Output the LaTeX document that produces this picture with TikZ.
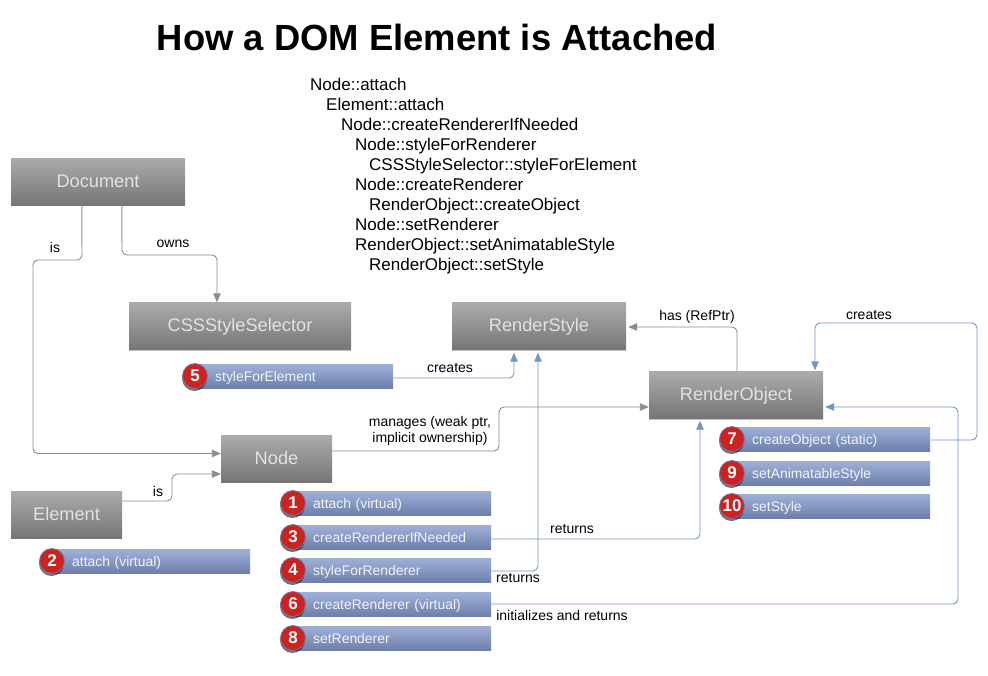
\documentclass[tikz,border=0pt]{standalone}
\usepackage{fontspec}
\setmainfont{Liberation Sans}
\usepackage{xcolor}
\definecolor{boxtop}{HTML}{ABABAB}
\definecolor{boxbot}{HTML}{767676}
\definecolor{boxtxt}{HTML}{E2E2E2}
\definecolor{bartop}{HTML}{9FB0D8}
\definecolor{barbot}{HTML}{6E7FAD}
\definecolor{bartxt}{HTML}{F0F3FA}
\definecolor{numred}{HTML}{CC2220}
\definecolor{linkgray}{HTML}{8C8C8C}
\definecolor{linkblue}{HTML}{7097C8}
\usetikzlibrary{arrows.meta,shadows}

\newcommand{\methodbar}[4]{%
  \node [methodbar] (#1) at (#3) {#4};
  \node [methodnum] (#1num) at (#1.west) {#2};
}

\begin{document}
\begin{tikzpicture}[
  x=1pt, y=-1pt,
  classbox/.style={rectangle, minimum width=#1, minimum height=47pt, inner sep=0pt,
    top color=boxtop, bottom color=boxbot, text=boxtxt, font=\fontsize{18.2}{22}\selectfont,
    text height=13pt, text depth=2pt,
    drop shadow={shadow xshift=0pt, shadow yshift=-1pt, opacity=0.25, fill=black}},
  methodbar/.style={rectangle, anchor=west, minimum height=24pt, inner xsep=10pt, inner ysep=0pt,
    text width=178pt, align=left, text height=11pt, text depth=1pt,
    top color=bartop, bottom color=barbot, text=bartxt, font=\fontsize{13.9}{16}\selectfont,
    execute at begin node={\hspace*{10pt}},
    drop shadow={shadow xshift=0pt, shadow yshift=-1pt, opacity=0.2, fill=black}},
  methodnum/.style={circle, minimum size=25pt, inner sep=0pt, fill=numred, draw=barbot, line width=0.8pt,
    text=white, font=\fontsize{17}{20}\bfseries\selectfont,
    drop shadow={shadow xshift=-0.5pt, shadow yshift=-2.5pt, opacity=0.55, fill=black}},
  linklabel/.style={inner sep=0pt, font=\fontsize{14}{16}\selectfont, align=center},
  listline/.style={inner sep=0pt, anchor=base west, font=\fontsize{17}{20}\selectfont},
  graylink/.style={draw=linkgray, line width=0.9pt, rounded corners=5pt, -{Triangle[length=9pt,width=7.5pt]}},
  bluelink/.style={draw=linkblue, line width=0.9pt, rounded corners=5pt, -{Triangle[length=9pt,width=7.5pt]}}
  ]
  \useasboundingbox (0,0) rectangle (988,675);

  % title
  \node [inner sep=0pt, font=\fontsize{36.4}{40}\bfseries\selectfont] (title) at (437,37) {How a DOM Element is Attached};

  % call list
  \node [listline] (call1) at (310,90) {Node::attach};
  \node [listline] (call2) at (326,110) {Element::attach};
  \node [listline] (call3) at (341,130) {Node::createRendererIfNeeded};
  \node [listline] (call4) at (355,150) {Node::styleForRenderer};
  \node [listline] (call5) at (369,170) {CSSStyleSelector::styleForElement};
  \node [listline] (call6) at (355,190) {Node::createRenderer};
  \node [listline] (call7) at (369,210) {RenderObject::createObject};
  \node [listline] (call8) at (355,230) {Node::setRenderer};
  \node [listline] (call9) at (355,250) {RenderObject::setAnimatableStyle};
  \node [listline] (call10) at (369,270) {RenderObject::setStyle};

  % classes
  \node [classbox=174pt] (document) at (98,181.5) {Document};
  \node [classbox=222pt] (selector) at (240,326) {CSSStyleSelector};
  \node [classbox=174pt] (renderstyle) at (539,326) {RenderStyle};
  \node [classbox=174pt] (renderobject) at (736,395) {RenderObject};
  \node [classbox=111pt] (domnode) at (276.5,458.5) {Node};
  \node [classbox=111pt] (element) at (66.5,514.5) {Element};

  % methods
  \methodbar{styleforelement}{5}{195,376}{styleForElement}
  \methodbar{attachnode}{1}{293,503}{attach (virtual)}
  \methodbar{ifneeded}{3}{293,537}{createRendererIfNeeded}
  \methodbar{styleforrenderer}{4}{293,570}{styleForRenderer}
  \methodbar{createrenderer}{6}{293,604}{createRenderer (virtual)}
  \methodbar{setrenderer}{8}{293,638}{setRenderer}
  \methodbar{attachelement}{2}{52,561}{attach (virtual)}
  \methodbar{createobject}{7}{732,439}{createObject (static)}
  \methodbar{setanimatable}{9}{732,473}{setAnimatableStyle}
  \methodbar{setstyle}{10}{732,506}{setStyle}

  % gray links
  \draw [graylink] ([xshift=71pt]document.south west) -- (82,260) -- (33,260) -- (33,453.5) -- ([yshift=5pt]domnode.west);
  \draw [graylink] ([xshift=111pt]document.south west) -- (122,255) -- (217,255) -- ([xshift=-23pt]selector.north);
  \draw [graylink] ([yshift=13.5pt]element.east) -- (172,501) -- (172,474) -- ([yshift=-15.5pt]domnode.west);
  \draw [graylink] ([yshift=7.5pt]domnode.east) -- (499,451) -- (499,407) -- ([yshift=-12pt]renderobject.west);
  \draw [graylink] ([xshift=1pt]renderobject.north) -- (737,327) -- ([xshift=2pt,yshift=-1pt]renderstyle.east);

  % blue links
  \draw [bluelink] ([yshift=-2pt]styleforelement.east) -- (514,378) -- ([xshift=-25pt,yshift=-3pt]renderstyle.south);
  \draw [bluelink] ([yshift=-1pt]styleforrenderer.east) -- (538,571) -- ([xshift=-1pt,yshift=-3pt]renderstyle.south);
  \draw [bluelink] ([yshift=-2pt]ifneeded.east) -- (700,539) -- ([xshift=-36pt,yshift=-2pt]renderobject.south);
  \draw [bluelink] (createrenderer.east) -- (958,604) -- (958,407) -- ([xshift=2pt,yshift=-12pt]renderobject.east);
  \draw [bluelink] ([yshift=-1pt]createobject.east) -- (977,440) -- (977,323) -- (815,323) -- ([xshift=79pt,yshift=1pt]renderobject.north);

  % link labels
  \node [linklabel] (isdoc) at (55,247) {is};
  \node [linklabel] (owns) at (173,244) {owns};
  \node [linklabel] (createsstyle) at (450,368) {creates};
  \node [linklabel] (manages) at (430,431) {manages (weak ptr,\\implicit ownership)};
  \node [linklabel] (hasref) at (697,317) {has (RefPtr)};
  \node [linklabel] (createsobject) at (869,315) {creates};
  \node [linklabel] (iselement) at (158,491) {is};
  \node [linklabel] (returnsobject) at (572,529) {returns};
  \node [linklabel] (returnsstyle) at (518,578) {returns};
  \node [linklabel] (initializes) at (562,615) {initializes and returns};
\end{tikzpicture}
\end{document}
